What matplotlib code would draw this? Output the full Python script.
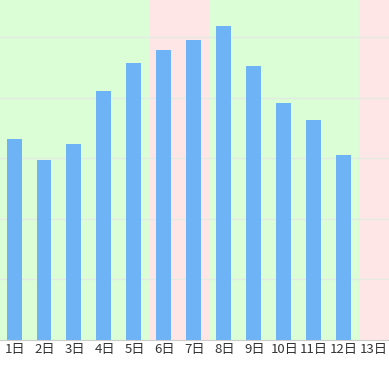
import matplotlib
matplotlib.use("Agg")
import matplotlib.pyplot as plt

plt.rcParams['font.family'] = ['Noto Sans CJK JP', 'DejaVu Sans']

days = ["1日", "2日", "3日", "4日", "5日", "6日", "7日", "8日", "9日", "10日", "11日", "12日", "13日"]
values = [33.2, 29.7, 32.3, 41.1, 45.7, 47.9, 49.5, 51.8, 45.2, 39.1, 36.3, 30.5, None]
# background bands: (first day index, last day index, colour)
bands = [(0, 4, '#dbfed7'), (5, 6, '#ffe6e6'), (7, 11, '#dbfed7'), (12, 12, '#ffe6e6')]

fig = plt.figure(figsize=(3.89, 3.65), dpi=100)
ax = fig.add_axes([0, 25 / 365, 1, 340 / 365])

for start, end, color in bands:
    ax.axvspan(start - 0.5, end + 0.5, color=color, zorder=0, lw=0)

for g in [10, 20, 30, 40, 50]:
    ax.axhline(g, color='#e2ebe2', lw=1, zorder=1)

xs = [i for i, v in enumerate(values) if v is not None]
ax.bar([x - 0.03 for x in xs], [values[i] for i in xs], width=0.5, color='#6db3f6', zorder=2)

ax.set_xlim(-0.5, len(days) - 0.5)
ax.set_ylim(0, 56.1)
ax.set_xticks(range(len(days)))
ax.set_xticklabels(days, fontsize=9.5, color='#333333')
ax.tick_params(axis='x', length=0, pad=2)
ax.set_yticks([])
for side in ['top', 'right', 'left']:
    ax.spines[side].set_visible(False)
ax.spines['bottom'].set_color('#cccccc')

fig.savefig('out.png', dpi=100)
